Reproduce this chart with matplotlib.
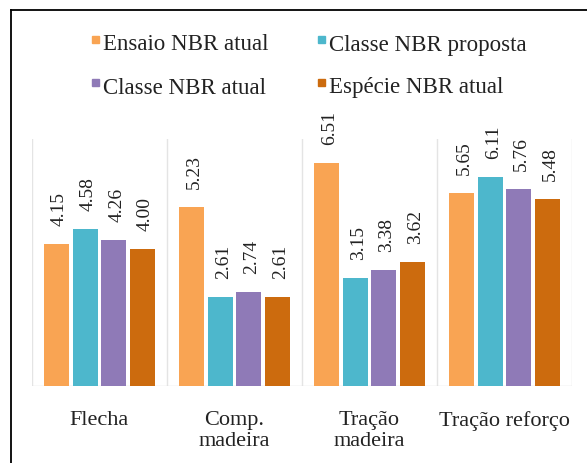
import numpy as np
import matplotlib.pyplot as plt
from matplotlib.patches import Rectangle
from matplotlib.lines import Line2D

categories = ["Flecha", "Comp.\nmadeira", "Tração\nmadeira", "Tração reforço"]
series_names = ["Ensaio NBR atual", "Classe NBR proposta", "Classe NBR atual", "Espécie NBR atual"]
ensaio_atual = [4.15, 5.23, 6.51, 5.65]
classe_proposta = [4.58, 2.61, 3.15, 6.11]
classe_atual = [4.26, 2.74, 3.38, 5.76]
especie_atual = [4.00, 2.61, 3.62, 5.48]
colors = ["#F9A453", "#4DB7CC", "#8F7AB7", "#CC6B0E"]

serif = ['Liberation Serif', 'DejaVu Serif']
plt.rcParams['font.family'] = serif

fig = plt.figure(figsize=(5.87, 4.64), dpi=100)
W, H = 587, 464
ax = fig.add_axes([32 / W, (H - 387) / H, 540 / W, (387 - 140) / H])

x = np.arange(len(categories))
pitch = 0.212
width = 0.186
data = [ensaio_atual, classe_proposta, classe_atual, especie_atual]
for j, (vals, col) in enumerate(zip(data, colors)):
    pos = x + (j - 1.5) * pitch
    ax.bar(pos, vals, width, color=col, zorder=3)
    for px, v in zip(pos, vals):
        ax.annotate(f"{v:.2f}", (px, v), xytext=(3, 19), textcoords="offset pixels",
                    rotation=90, ha="center", va="bottom", fontsize=14,
                    family=serif, color="#222222", annotation_clip=False)

# separators between categories
for b in np.arange(-0.5, len(categories), 1.0):
    ax.axvline(b, color="#e4e4e4", lw=1, zorder=1)
ax.axhline(0, color="#dddddd", lw=1, zorder=2)

ax.set_xlim(-0.5, len(categories) - 0.5)
ax.set_ylim(0, (387 - 140) / 34.2)
for s in ax.spines.values():
    s.set_visible(False)
ax.set_yticks([])
ax.set_xticks(x)
ax.set_xticklabels(categories, fontsize=16, linespacing=1.2, color="#222222", family=serif)
ax.tick_params(axis="x", length=0, pad=17)

# legend drawn by hand, two rows
leg_pos = [(92, 45), (318, 45), (92, 88), (318, 88)]
for name, col, (lx, ly) in zip(series_names, colors, leg_pos):
    fig.patches.append(Rectangle((lx / W, (H - ly + 1) / H), 7 / W, 7 / H,
                                 transform=fig.transFigure, color=col))
    fig.text((lx + 11) / W, (H - ly) / H, name, fontsize=16.5, va="center",
             ha="left", color="#222222", family=serif)

# frame of the cropped picture
fig.add_artist(Line2D([10.5 / W, 10.5 / W], [0, (H - 10.5) / H], color="black", lw=1.3))
fig.add_artist(Line2D([10.5 / W, 1], [(H - 10.5) / H, (H - 10.5) / H], color="black", lw=1.3))

fig.savefig("out.png", dpi=100)
